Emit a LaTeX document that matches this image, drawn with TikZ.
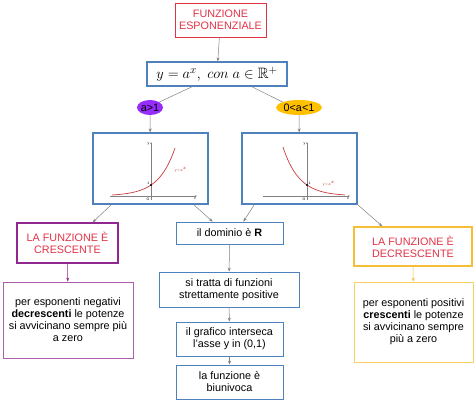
\documentclass[tikz,border=0pt]{standalone}
\usepackage{amssymb}
\usepackage{fontspec}
\setmainfont{Liberation Sans}
\usetikzlibrary{arrows.meta,shapes.geometric}
\definecolor{titlered}{RGB}{225,50,70}
\definecolor{boxblue}{RGB}{79,129,189}
\definecolor{linegray}{RGB}{128,128,128}
\definecolor{purplefill}{RGB}{150,45,250}
\definecolor{goldfill}{RGB}{255,192,0}
\definecolor{purpleline}{RGB}{145,40,145}
\definecolor{purplelight}{RGB}{170,95,170}
\definecolor{goldline}{RGB}{245,190,55}
\definecolor{goldlight}{RGB}{250,210,100}
\definecolor{curvered}{RGB}{200,60,60}
\begin{document}
\begin{tikzpicture}[x=1pt,y=-1pt,>={Stealth[length=4pt,width=3pt]}]
    \tikzstyle{box}=[draw=boxblue,line width=0.8pt,align=center,inner sep=1pt,font=\fontsize{10.8}{12}\selectfont]
    \tikzstyle{redtitle}=[box,text=titlered]
    \tikzstyle{cond}=[ellipse,draw=none,inner sep=0pt,font=\fontsize{10.8}{12}\selectfont]
    \tikzstyle{graphbox}=[draw=boxblue,line width=1.3pt,minimum width=115,minimum height=71]
    \tikzstyle{conn}=[linegray,line width=0.5pt]
    \useasboundingbox (0,0) rectangle (474,403);
    % top of the map
    \node[redtitle,draw=titlered,minimum width=91,minimum height=34] (title) at (220.5,20) {FUNZIONE\\ESPONENZIALE};
    \node[box,line width=1.1pt,minimum width=140,minimum height=24,font=\fontsize{15}{18}\selectfont] (formula) at (217,74)
      {$y = a^{x},\ con\ a \in \mathbb{R}^{+}$};
    \node[cond,fill=purplefill,minimum width=26,minimum height=15] (ella) at (150,107.5) {a>1};
    \node[cond,fill=goldfill,minimum width=46,minimum height=15] (ellb) at (299,107.5) {0<a<1};
    % the two graphs
    \node[graphbox] (graphl) at (150.5,168.5) {};
    \node[graphbox] (graphr) at (299.5,168.5) {};
    \draw[linegray,line width=0.4pt,-{Stealth[length=2pt,width=1.5pt]}] (110,196) -- (197,196);
    \draw[linegray,line width=0.4pt,-{Stealth[length=2pt,width=1.5pt]}] (151,200) -- (151,142);
    \draw[curvered,line width=0.7pt] plot[domain=112:175,samples=40] (\x,{196-11*exp(0.0614*(\x-151))});
    \fill (151,185) circle (1.1);
    \draw[linegray,line width=0.4pt,-{Stealth[length=2pt,width=1.5pt]}] (263,196) -- (350,196);
    \draw[linegray,line width=0.4pt,-{Stealth[length=2pt,width=1.5pt]}] (307,200) -- (307,142);
    \draw[curvered,line width=0.7pt] plot[domain=283:345,samples=40] (\x,{196-11*exp(-0.0622*(\x-307))});
    \fill (307,185) circle (1.1);
    \begin{scope}[font=\fontsize{3.5}{4}\selectfont,inner sep=0.5pt]
      \node[anchor=east] (yl) at (150,144) {y};
      \node[anchor=north] (xl) at (195,197) {x};
      \node[anchor=north east] (ol) at (150,197) {O};
      \node[anchor=south east] (unol) at (150,185) {1};
      \node[text=curvered] (eql) at (181,170) {y = a$^{x}$};
      \node[anchor=east] (yr) at (306,144) {y};
      \node[anchor=north] (xr) at (348,197) {x};
      \node[anchor=north east] (or) at (306,197) {O};
      \node[anchor=south west] (unor) at (308,185) {1};
      \node[text=curvered] (eqr) at (329,184) {y = a$^{x}$};
    \end{scope}
    % left column
    \node[redtitle,draw=purpleline,line width=1.4pt,minimum width=101,minimum height=40] (cresc) at (67.5,243) {LA FUNZIONE È\\CRESCENTE};
    \node[box,draw=purplelight,minimum width=130,minimum height=76] (txtl) at (68,320)
      {per esponenti negativi\\\textbf{decrescenti} le potenze\\si avvicinano sempre più\\a zero};
    % middle column
    \node[box,minimum width=107,minimum height=22] (dom) at (229.5,233) {il dominio è \textbf{R}};
    \node[box,minimum width=140,minimum height=35] (tratta) at (229,289.5) {si tratta di funzioni\\strettamente positive};
    \node[box,minimum width=107,minimum height=34] (graf) at (229.5,339) {il grafico interseca\\l'asse y in (0,1)};
    \node[box,minimum width=107,minimum height=34] (biun) at (229.5,382) {la funzione è\\biunivoca};
    % right column
    \node[redtitle,draw=goldline,line width=1.4pt,minimum width=118,minimum height=39] (decr) at (413,246.5) {LA FUNZIONE È\\DECRESCENTE};
    \node[box,draw=goldlight,minimum width=119,minimum height=80] (txtr) at (413.5,322)
      {per esponenti positivi\\\textbf{crescenti} le potenze\\si avvicinano sempre\\più a zero};
    % connectors
    \draw[conn,->] (title) -- (formula);
    \draw[conn] ([xshift=46]formula.south west) -- (ella.north east);
    \draw[conn] ([xshift=105]formula.south west) -- (ellb.north west);
    \draw[conn,->] (ella) -- (graphl);
    \draw[conn,->] (ellb) -- (graphr);
    \draw[conn,->] ([xshift=19]graphl.south west) -- ([xshift=-26]cresc.north east);
    \draw[conn,->] ([xshift=-15]graphl.south east) -- ([xshift=37]dom.north west);
    \draw[conn,->] ([xshift=13]graphr.south west) -- ([xshift=-40]dom.north east);
    \draw[conn,->] (graphr.south east) -- ([xshift=29]decr.north west);
    \draw[conn,->,purpleline] (cresc) -- (txtl);
    \draw[conn,->] (dom) -- (tratta);
    \draw[conn,->] (tratta) -- (graf);
    \draw[conn,->] (graf) -- (biun);
    \draw[conn,->,goldline] (decr) -- (txtr);
\end{tikzpicture}
\end{document}
